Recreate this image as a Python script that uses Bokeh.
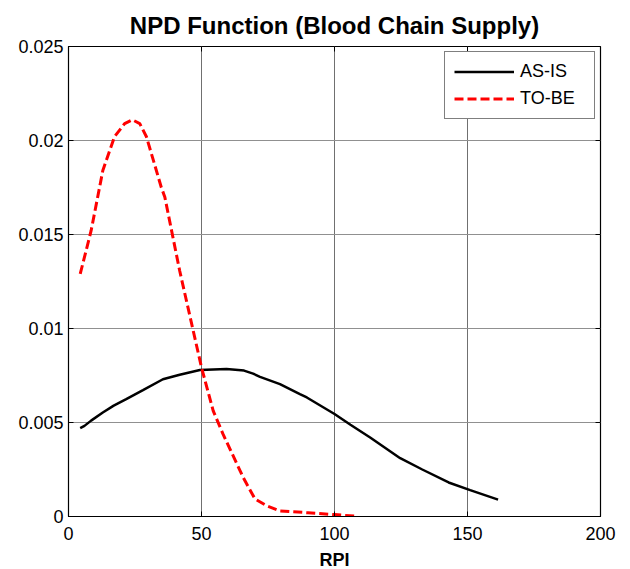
import math
from bokeh.plotting import figure
from bokeh.models import Range1d, FixedTicker, Legend, LegendItem
from bokeh.embed import file_html
from bokeh.resources import INLINE

# AS-IS series
asis_x = [4.4, 6, 8.5, 12.9, 17, 21.7, 28, 35.5, 41.8, 49.4, 59.4, 66, 69.4, 72, 79.5,
          87, 89.6, 100, 106, 113.4, 124.7, 133, 142.9, 151, 161.5]
asis_y = [0.0047, 0.00482, 0.0051, 0.00553, 0.0059, 0.00624, 0.00672, 0.0073, 0.00754,
          0.00779, 0.00784, 0.00776, 0.0076, 0.00743, 0.00704, 0.00651, 0.00633, 0.00545,
          0.00488, 0.0042, 0.0031, 0.0025, 0.00181, 0.0014, 0.0009]

# TO-BE series
tobe_x = [4.4, 8.5, 12.9, 17.3, 21.1, 24, 26.8, 29.3, 34.9, 36.2, 41.8, 50, 54.4, 58.1,
          65.7, 70.1, 74.5, 79.5, 90, 100, 107.8]
tobe_y = [0.0129, 0.0152, 0.0184, 0.0202, 0.0209, 0.0211, 0.0209, 0.0202, 0.0175, 0.0170,
          0.01307, 0.00793, 0.00562, 0.00438, 0.00207, 0.00093, 0.00057, 0.0003, 0.0002,
          0.0001, 0.00002]

x_ticks = [0, 50, 100, 150, 200]
y_ticks = [0, 0.005, 0.01, 0.015, 0.02, 0.025]
y_tick_labels = ["0", "0.005", "0.01", "0.015", "0.02", "0.025"]

FONT = "Liberation Sans"

p = figure(frame_width=532, frame_height=470, output_backend="svg", toolbar_location=None,
           x_range=Range1d(x_ticks[0], x_ticks[-1]), y_range=Range1d(y_ticks[0], y_ticks[-1]),
           min_border_left=68, min_border_right=28, min_border_top=46, min_border_bottom=50,
           title="NPD Function (Blood Chain Supply)")

p.title.text_font = FONT
p.title.text_font_size = "24px"
p.title.text_font_style = "bold"
p.title.text_color = "black"
p.title.align = "center"
p.title.standoff = 15

p.outline_line_color = "black"
p.outline_line_width = 1.2

p.xaxis.ticker = FixedTicker(ticks=x_ticks)
p.yaxis.ticker = FixedTicker(ticks=y_ticks)
p.yaxis.major_label_overrides = {t: l for t, l in zip(y_ticks, y_tick_labels)}
p.xaxis.axis_label = "RPI"

for ax in p.xaxis + p.yaxis:
    ax.major_tick_in = 5
    ax.major_tick_out = 0
    ax.minor_tick_line_color = None
    ax.major_label_text_font = FONT
    ax.major_label_text_font_size = "18px"
    ax.major_label_text_color = "black"
    ax.axis_line_color = "black"
    ax.major_tick_line_color = "black"
    ax.axis_label_text_font = FONT
    ax.axis_label_text_font_size = "18px"
    ax.axis_label_text_font_style = "bold"
    ax.axis_label_text_color = "black"

p.xaxis.major_label_standoff = 10
p.xaxis.axis_label_standoff = 7
p.yaxis.major_label_standoff = 5

p.xgrid.ticker = FixedTicker(ticks=x_ticks)
p.ygrid.ticker = FixedTicker(ticks=y_ticks)
p.xgrid.grid_line_color = "#707070"
p.ygrid.grid_line_color = "#909090"
p.xgrid.grid_line_width = 1
p.ygrid.grid_line_width = 1

# mirrored inward ticks on the right and top edges
p.ray(x=[x_ticks[-1]] * len(y_ticks), y=y_ticks, length=5, length_units="screen",
      angle=math.pi, line_color="black", line_width=1)
p.ray(x=x_ticks, y=[y_ticks[-1]] * len(x_ticks), length=5, length_units="screen",
      angle=-math.pi / 2, line_color="black", line_width=1)

r1 = p.line(asis_x, asis_y, line_color="black", line_width=2.5)
r2 = p.line(tobe_x, tobe_y, line_color="#ff0000", line_width=3, line_dash="9 4")

legend = Legend(items=[LegendItem(label="AS-IS", renderers=[r1]),
                       LegendItem(label="TO-BE", renderers=[r2])],
                location=(376, 397))
legend.label_text_font = FONT
legend.label_text_font_size = "18px"
legend.label_text_color = "black"
legend.label_height = 19
legend.label_width = 65
legend.glyph_width = 60
legend.glyph_height = 19
legend.label_standoff = 6
legend.spacing = 6
legend.padding = 9
legend.margin = 0
legend.border_line_color = "black"
legend.border_line_width = 1
legend.background_fill_color = "white"
legend.background_fill_alpha = 1
p.add_layout(legend, "center")

open("out.html", "w").write(file_html(p, INLINE))
